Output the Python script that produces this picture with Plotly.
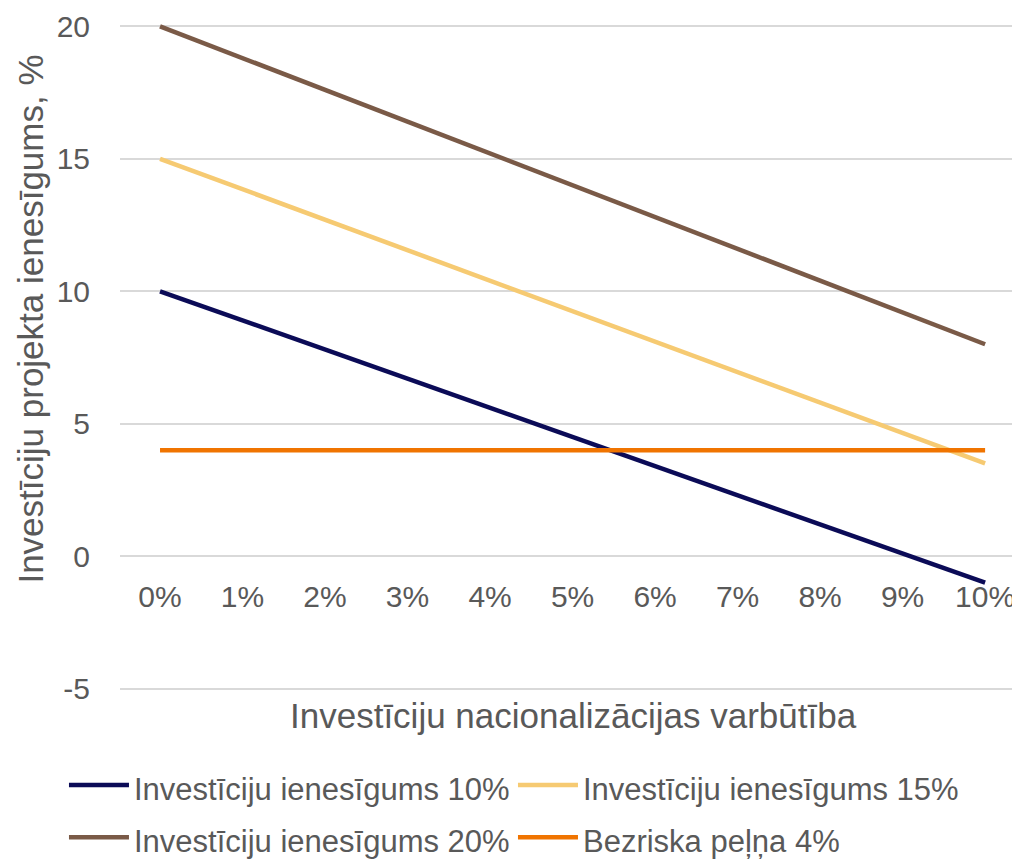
import plotly.graph_objects as go

# nationalisation probability categories
categories = ["0%", "1%", "2%", "3%", "4%", "5%", "6%", "7%", "8%", "9%", "10%"]

return_10 = [10, 8.9, 7.8, 6.7, 5.6, 4.5, 3.4, 2.3, 1.2, 0.1, -1]
return_15 = [15, 13.85, 12.7, 11.55, 10.4, 9.25, 8.1, 6.95, 5.8, 4.65, 3.5]
return_20 = [20, 18.8, 17.6, 16.4, 15.2, 14, 12.8, 11.6, 10.4, 9.2, 8]
risk_free = [4, 4, 4, 4, 4, 4, 4, 4, 4, 4, 4]

y_ticks = [-5, 0, 5, 10, 15, 20]
y_tick_labels = ["-5", "0", "5", "10", "15", "20"]

series = [
    ("Investīciju ienesīgums 10%", return_10, "#0B0B57"),
    ("Investīciju ienesīgums 15%", return_15, "#F6CA72"),
    ("Investīciju ienesīgums 20%", return_20, "#7A5A47"),
    ("Bezriska peļņa 4%", risk_free, "#F07400"),
]

FONT = "Liberation Sans, Arial, sans-serif"
GREY = "#595959"
YMIN, YMAX = -5.2, 20.2
PLOT_H = 672.6

fig = go.Figure()
for name, vals, color in series:
    fig.add_trace(
        go.Scatter(
            x=categories,
            y=vals,
            # legend font is larger to space the rows; the text itself is 31px
            name=f'<span style="font-size:31px">{name}</span>',
            mode="lines",
            line=dict(color=color, width=4.5),
            cliponaxis=False,
        )
    )

fig.update_layout(
    width=1020,
    height=851,
    paper_bgcolor="white",
    plot_bgcolor="white",
    margin=dict(l=112, r=0, t=13, b=165, autoexpand=False),
    font=dict(family=FONT, color=GREY, size=30),
    showlegend=True,
    legend=dict(
        orientation="h",
        x=-0.0617,
        xanchor="left",
        y=-0.0888,
        yanchor="top",
        entrywidth=374,
        entrywidthmode="pixels",
        font=dict(size=38, color=GREY),
        itemwidth=60,
    ),
    xaxis=dict(
        type="category",
        range=[-0.485, 10.52],
        anchor="free",
        position=(0 - YMIN) / (YMAX - YMIN),
        showgrid=False,
        showline=False,
        zeroline=False,
        ticks="",
        ticklabelstandoff=20,
        tickfont=dict(size=30, color=GREY),
    ),
    yaxis=dict(
        range=[YMIN, YMAX],
        tickvals=y_ticks,
        ticktext=y_tick_labels,
        showgrid=True,
        gridcolor="#D9D9D9",
        gridwidth=1.5,
        zeroline=False,
        showline=False,
        ticks="",
        ticklabelstandoff=29,
        tickfont=dict(size=30, color=GREY),
    ),
    annotations=[
        dict(
            text="Investīciju nacionalizācijas varbūtība",
            xref="paper",
            yref="paper",
            x=0.499,
            y=-0.032,
            xanchor="center",
            yanchor="middle",
            showarrow=False,
            font=dict(size=35, color=GREY),
        ),
        dict(
            text="Investīciju projekta ienesīgums, %",
            xref="paper",
            yref="paper",
            x=-0.099,
            y=(685.3 - 311) / PLOT_H,
            xanchor="center",
            yanchor="middle",
            textangle=-90,
            showarrow=False,
            font=dict(size=35, color=GREY),
        ),
    ],
)

fig.write_html("out.html")
